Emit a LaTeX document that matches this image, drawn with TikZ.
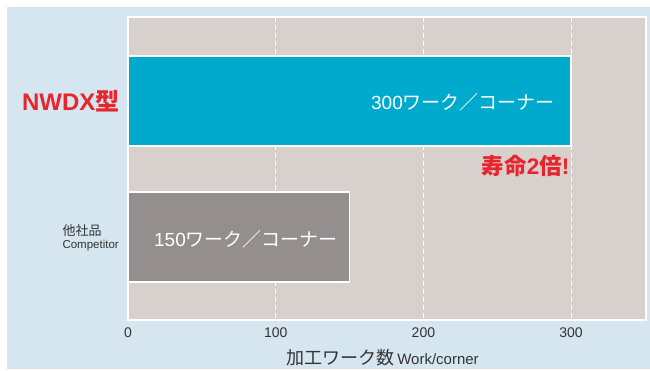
\documentclass[tikz,border=0pt]{standalone}
\usepackage{fontspec}
\setmainfont{Liberation Sans}
\newfontfamily\jp{Noto Sans CJK JP}
\definecolor{fond}{HTML}{D5E6F0}
\definecolor{zone}{HTML}{D8D0CD}
\definecolor{bleu}{HTML}{00AACD}
\definecolor{gris}{HTML}{948F8E}
\definecolor{rouge}{HTML}{E8242C}
\definecolor{texte}{HTML}{333333}
\tikzset{
  barre/.style={draw=white,line width=1.5pt},
  grille/.style={white,line width=1.2pt,dash pattern=on 5pt off 3pt},
  valeur/.style={text=white,font=\fontsize{19}{19}\selectfont},
  titre/.style={text=rouge,font=\bfseries\fontsize{24}{24}\selectfont},
  graduation/.style={text=texte,font=\fontsize{14}{14}\selectfont}
}
\begin{document}
\begin{tikzpicture}[x=1pt,y=-1pt]
\useasboundingbox (0,0) rectangle (650,370);
\fill[fond] (7,7) rectangle (650,369);
\fill[zone] (128,17) rectangle (646,320);
\draw[white,line width=1.5pt] (128,17) rectangle (646,320);

% lignes de la grille et graduations
\foreach \v in {100,200,300}
  \draw[grille] ({128+1.477*\v},17)--({128+1.477*\v},320);
\foreach \v in {0,100,200,300}
  \node[graduation] (g\v) at ({128+1.477*\v},333) {\v};

\draw[barre,fill=bleu] (128,56) rectangle ({128+1.477*300},146);
\draw[barre,fill=gris] (128,192) rectangle ({128+1.477*150},282);

\node[valeur] (v300) at (463,102) {300{\jp ワーク／コーナー}};
\node[valeur] (v150) at (246,239) {150{\jp ワーク／コーナー}};

\node[titre,anchor=east] (nwdx) at (123,101) {NWDX{\jp 型}};
\node[titre,anchor=east,font=\bfseries\fontsize{22.5}{22.5}\selectfont] (double) at (573,166) {{\jp 寿命}2{\jp 倍}!};

\node[text=texte,font=\jp\fontsize{13}{13}\selectfont,anchor=west] (autre) at (59,231) {他社品};
\node[text=texte,font=\fontsize{11.5}{11.5}\selectfont,anchor=west] (autreen) at (59,246) {Competitor};

\node[text=texte,anchor=base west] (axe) at (283,364)
  {{\jp\fontsize{18}{18}\selectfont 加工ワーク数} {\fontsize{15}{15}\selectfont Work/corner}};
\end{tikzpicture}
\end{document}
